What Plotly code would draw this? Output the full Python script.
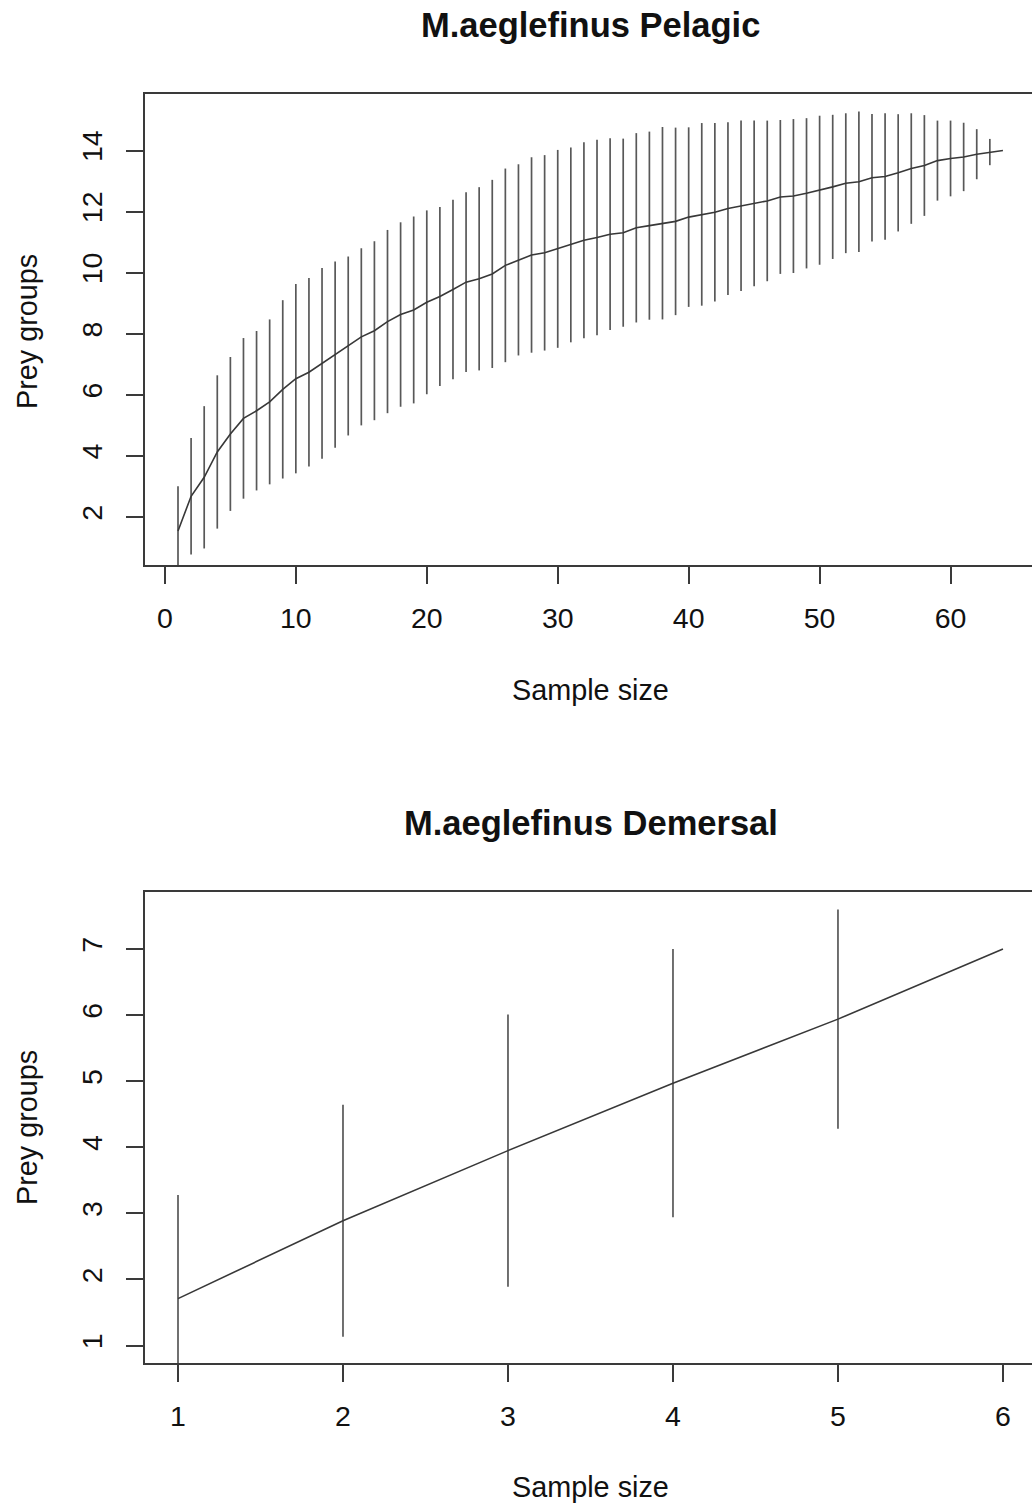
import plotly.graph_objects as go

# Species accumulation curves: mean prey-group richness with +/- 2 SD bars
CI_MULT = 2

pel_sites = list(range(1, 65))
pel_richness = [
    1.54, 2.68, 3.30, 4.13, 4.72, 5.23, 5.48, 5.77, 6.18, 6.53,
    6.74, 7.03, 7.32, 7.60, 7.90, 8.10, 8.40, 8.63, 8.78, 9.03,
    9.22, 9.45, 9.69, 9.80, 9.96, 10.24, 10.42, 10.58, 10.65, 10.78,
    10.91, 11.06, 11.15, 11.26, 11.31, 11.47, 11.54, 11.62, 11.68, 11.82,
    11.91, 11.98, 12.10, 12.19, 12.27, 12.35, 12.48, 12.51, 12.60, 12.70,
    12.81, 12.93, 12.98, 13.11, 13.15, 13.27, 13.41, 13.51, 13.67, 13.74,
    13.79, 13.88, 13.95, 14.00,
]
pel_sd = [
    0.735, 0.955, 1.165, 1.255, 1.26, 1.315, 1.305, 1.35, 1.46, 1.55,
    1.545, 1.56, 1.525, 1.465, 1.45, 1.465, 1.50, 1.51, 1.53, 1.505,
    1.465, 1.47, 1.47, 1.50, 1.54, 1.585, 1.565, 1.60, 1.60, 1.62,
    1.595, 1.605, 1.60, 1.57, 1.54, 1.55, 1.54, 1.575, 1.535, 1.47,
    1.495, 1.46, 1.415, 1.395, 1.355, 1.315, 1.26, 1.26, 1.23, 1.22,
    1.18, 1.145, 1.15, 1.045, 1.035, 0.96, 0.905, 0.825, 0.655, 0.62,
    0.56, 0.41, 0.215, 0.0,
]

dem_sites = [1, 2, 3, 4, 5, 6]
dem_richness = [1.71, 2.89, 3.95, 4.97, 5.94, 7.00]
dem_sd = [0.785, 0.878, 1.03, 1.015, 0.83, 0.0]

pel_xticks = [0, 10, 20, 30, 40, 50, 60]
pel_yticks = [2, 4, 6, 8, 10, 12, 14]
dem_xticks = [1, 2, 3, 4, 5, 6]
dem_yticks = [1, 2, 3, 4, 5, 6, 7]

W, H = 1032, 1506
L = 145
FONT = "Liberation Sans, Arial, Helvetica, sans-serif"
AXCOL = "#3a3a3a"


def py(p):
    return 1 - p / H


def pxp(p):
    return (p - L) / (W - L)


fig = go.Figure()


def add_curve(x, rich, sd, xa, ya):
    fig.add_trace(go.Scatter(
        x=x, y=rich, xaxis=xa, yaxis=ya, mode="lines",
        line=dict(color="#383838", width=1.6),
        error_y=dict(type="data", array=[CI_MULT * s for s in sd],
                     visible=True, width=0, thickness=1.7, color="#585858"),
        showlegend=False, hoverinfo="x+y",
    ))


add_curve(pel_sites, pel_richness, pel_sd, "x", "y")
add_curve(dem_sites, dem_richness, dem_sd, "x2", "y2")

tickfont = dict(family=FONT, size=28.5, color="#111")
common_x = dict(showgrid=False, zeroline=False, showline=True, mirror=True,
                linecolor=AXCOL, linewidth=1.6, ticks="outside", ticklen=17,
                tickwidth=1.6, tickcolor=AXCOL, tickfont=tickfont,
                ticklabelstandoff=10, fixedrange=True)
common_y = dict(showgrid=False, zeroline=False, showline=True, mirror=False,
                linecolor=AXCOL, linewidth=1.6, ticks="outside", ticklen=17,
                tickwidth=1.6, tickcolor=AXCOL, tickfont=tickfont,
                tickangle=-90, ticklabelstandoff=13, fixedrange=True)

fig.update_layout(
    width=W, height=H,
    margin=dict(l=L, r=0, t=0, b=0),
    paper_bgcolor="white", plot_bgcolor="white",
    xaxis=dict(common_x, domain=[0, 1], anchor="y", range=[-1.52, 66.22],
               tickvals=pel_xticks),
    yaxis=dict(common_y, domain=[py(565), py(94)], anchor="x",
               range=[0.4288, 15.851], tickvals=pel_yticks),
    xaxis2=dict(common_x, domain=[0, 1], anchor="y2", range=[0.8, 6.176],
                tickvals=dem_xticks),
    yaxis2=dict(common_y, domain=[py(1363), py(892)], anchor="x2",
                range=[0.736, 7.864], tickvals=dem_yticks),
)

titles = [
    ("M.aeglefinus Pelagic", 25),
    ("M.aeglefinus Demersal", 823),
]
for text, yc in titles:
    fig.add_annotation(text="<b>%s</b>" % text, x=pxp(590.5), y=py(yc),
                       xref="paper", yref="paper", showarrow=False,
                       xanchor="center", yanchor="middle",
                       font=dict(family=FONT, size=34.5, color="#111"))

for yc in (690, 1487):
    fig.add_annotation(text="Sample size", x=pxp(590.5), y=py(yc),
                       xref="paper", yref="paper", showarrow=False,
                       xanchor="center", yanchor="middle",
                       font=dict(family=FONT, size=28.8, color="#111"))

for yc in (332, 1128):
    fig.add_annotation(text="Prey groups", x=pxp(27), y=py(yc),
                       xref="paper", yref="paper", showarrow=False,
                       textangle=-90, xanchor="center", yanchor="middle",
                       font=dict(family=FONT, size=28.8, color="#111"))

fig.write_html("out.html")
